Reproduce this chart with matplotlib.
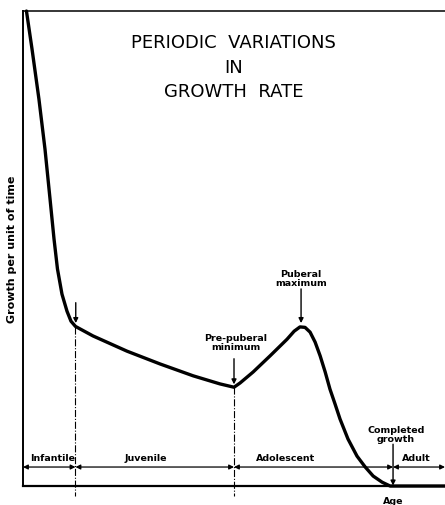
import matplotlib.pyplot as plt

# growth curve (age in arbitrary units, rate in %)
age = [0.13, 0.34, 0.60, 0.83, 1.02, 1.17, 1.30, 1.47, 1.66, 1.81, 1.98,
       2.64, 3.92, 5.17, 6.42, 7.43, 7.96,
       8.19, 8.68, 9.32, 9.96, 10.23, 10.45, 10.64, 10.83, 11.02,
       11.21, 11.40, 11.58, 11.77, 11.96, 12.26, 12.60, 12.91, 13.21,
       13.55, 13.85, 15.92]
rate = [100.0, 92.0, 81.5, 70.9, 60.4, 52.0, 45.7, 40.4, 36.8, 34.7, 33.6,
        31.6, 28.4, 25.7, 23.2, 21.5, 20.8,
        21.7, 24.0, 27.4, 30.9, 32.6, 33.5, 33.4, 32.4, 30.3,
        27.4, 24.0, 20.4, 17.3, 14.1, 9.9, 6.3, 4.0, 2.1,
        0.8, 0.0, 0.0]

# stage boundaries and labels
bounds = [0, 1.98, 7.96, 13.96, 15.92]
stages = ['Infantile', 'Juvenile', 'Adolescent', 'Adult']
stage_x = [1.1, 4.64, 9.92, 14.83]

fig = plt.figure(figsize=(4.45, 5.06), dpi=100)
ax = fig.add_axes([0.0517, 0.0375, 0.9483, 0.9387])
ax.set_xlim(0, 15.92)
ax.set_ylim(0, 100)
ax.set_xticks([])
ax.set_yticks([])
ax.spines['right'].set_visible(False)
ax.spines['left'].set_linewidth(1.4)
ax.spines['bottom'].set_linewidth(1.6)
ax.spines['top'].set_linewidth(1.1)

ax.plot(age, rate, color='black', lw=2.4, solid_joinstyle='round',
        solid_capstyle='round', clip_on=False)

# dash-dot boundary lines
ax.plot([bounds[1], bounds[1]], [33.5, -2.1], color='black', lw=0.8, ls='-.', clip_on=False)
ax.plot([bounds[2], bounds[2]], [20.8, -2.1], color='black', lw=0.8, ls='-.', clip_on=False)

# stage arrows
for i in range(len(stages)):
    ax.annotate('', xy=(bounds[i + 1], 4.0), xytext=(bounds[i], 4.0),
                arrowprops=dict(arrowstyle='<|-|>', color='black', lw=0.9,
                                mutation_scale=7, shrinkA=0, shrinkB=0),
                annotation_clip=False)
    ax.text(stage_x[i], 6.1, stages[i], ha='center', va='center',
            fontsize=6.8, fontweight='bold')

# pointer arrows
arrow = dict(arrowstyle='-|>', color='black', lw=1.0, mutation_scale=7, shrinkA=0, shrinkB=0)
ax.annotate('', xy=(1.99, 34.3), xytext=(1.99, 38.6), arrowprops=arrow)
ax.annotate('', xy=(7.96, 21.4), xytext=(7.96, 26.8), arrowprops=arrow)
ax.annotate('', xy=(10.49, 34.3), xytext=(10.49, 41.5), arrowprops=arrow)
ax.annotate('', xy=(13.96, 0.1), xytext=(13.96, 8.8), arrowprops=arrow)

ax.text(8.04, 28.4, 'Pre-puberal\nminimum', ha='center', va='bottom',
        fontsize=6.8, fontweight='bold', linespacing=1.0)
ax.text(10.49, 42.0, 'Puberal\nmaximum', ha='center', va='bottom',
        fontsize=6.8, fontweight='bold', linespacing=1.0)
ax.text(14.07, 9.0, 'Completed\ngrowth', ha='center', va='bottom',
        fontsize=6.8, fontweight='bold', linespacing=1.0)
ax.text(13.96, -3.0, 'Age', ha='center', va='center',
        fontsize=6.8, fontweight='bold', clip_on=False)

ax.set_ylabel('Growth per unit of time', fontsize=8, fontweight='bold', labelpad=4)

# title
for txt, yy in [('PERIODIC  VARIATIONS', 93.5), ('IN', 88.2), ('GROWTH  RATE', 83.2)]:
    ax.text(7.94, yy, txt, ha='center', va='center', fontsize=13)

fig.savefig('out.png', dpi=100)
